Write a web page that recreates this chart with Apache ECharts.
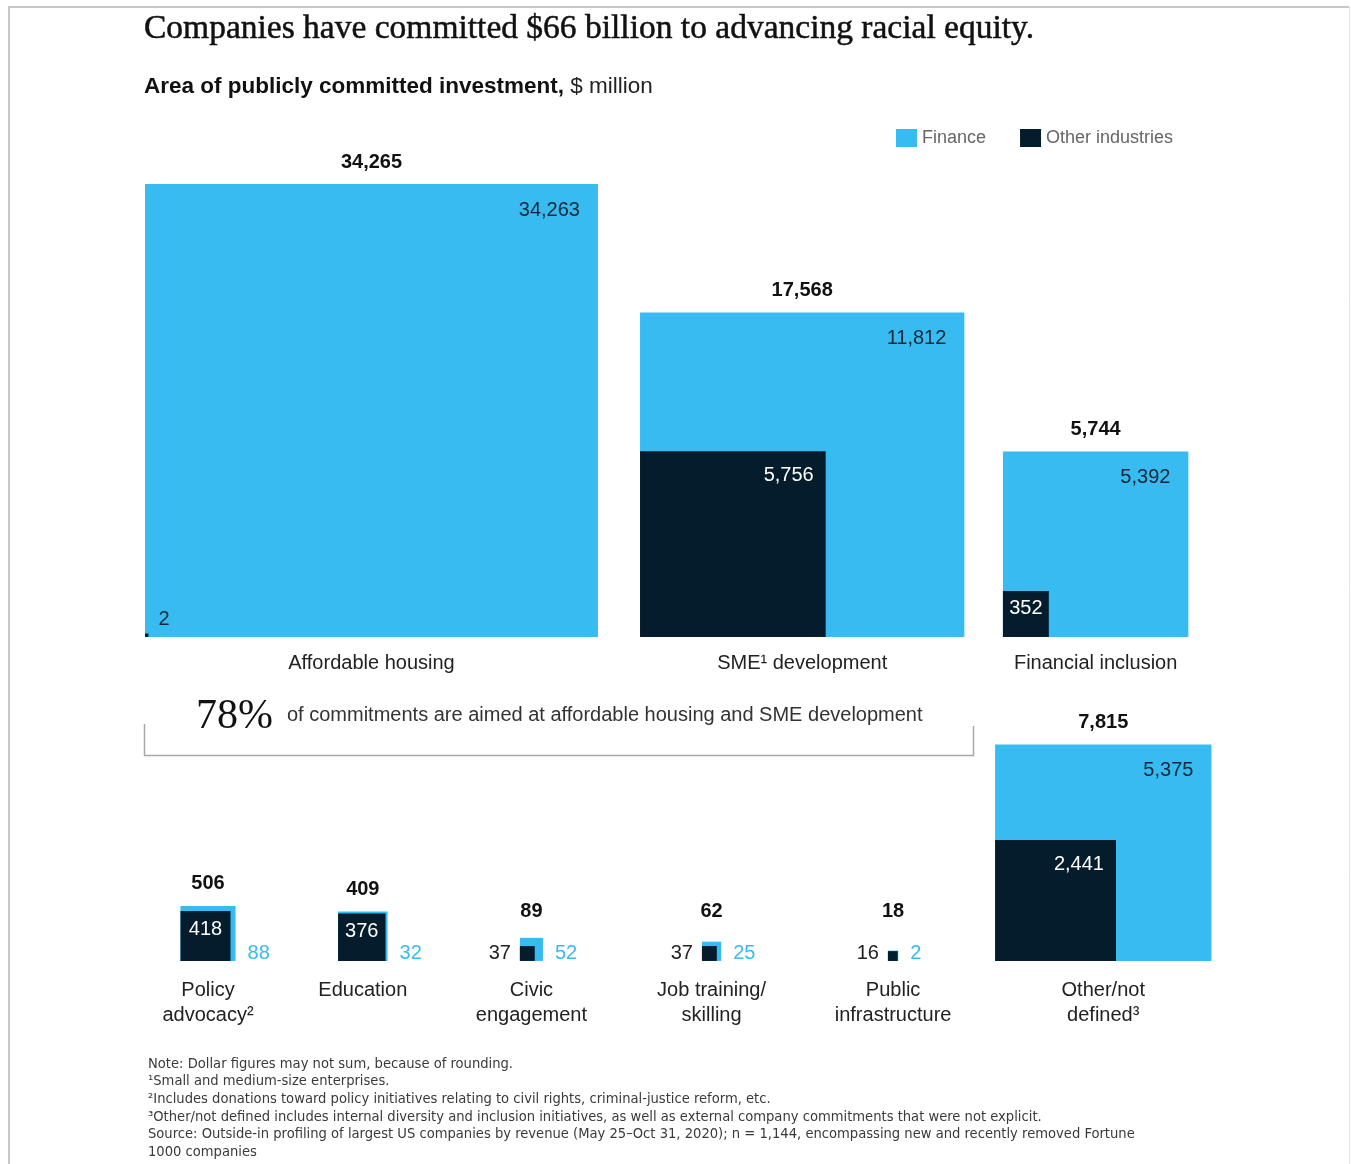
<!DOCTYPE html>
<html>
<head>
<meta charset="utf-8">
<script src="https://cdn.jsdelivr.net/npm/echarts@6.0.0/dist/echarts.min.js"></script>
<style>
  html, body { margin: 0; padding: 0; background: #ffffff; }
  #chart { width: 1351px; height: 1164px; }
</style>
</head>
<body>
<div id="chart"></div>
<script>
// Publicly committed investment by area, $ million
const categories = [
  'Affordable housing', 'SME\u00b9 development', 'Financial inclusion',
  'Policy\nadvocacy\u00b2', 'Education', 'Civic\nengagement',
  'Job training/\nskilling', 'Public\ninfrastructure', 'Other/not\ndefined\u00b3'
];
const totals          = [34265, 17568, 5744, 506, 409, 89, 62, 18, 7815];
const finance         = [34263, 11812, 5392, 88, 32, 52, 25, 2, 5375];
const otherIndustries = [2, 5756, 352, 418, 376, 37, 37, 16, 2441];

// Placement of each square: row and left edge, in sqrt($ million) units
const rowOf    = [0, 0, 0, 1, 1, 1, 1, 1, 1];
const leftEdge = [0, 202.3, 350.6, 14.5, 78.9, 153.2, 227.6, 303.6, 347.4];
const rowBase  = [132.4, 0];
const catLabelGap = [14, 17];     // px between a row's baseline and its category labels

const PX = 2.447;                 // pixels per sqrt-unit, so square area ~ value
const X_MAX = 440;
const Y_MAX = rowBase[0] + Math.sqrt(Math.max(...totals));
const BLUE = '#38bbf0';
const NAVY = '#051c2c';
const SANS = '"Liberation Sans", Arial, sans-serif';
const SERIF = '"Liberation Serif", "Times New Roman", serif';

const fmt = v => v.toLocaleString('en-US');

const items = categories.map((c, i) => [leftEdge[i], rowBase[rowOf[i]], totals[i], finance[i], otherIndustries[i]]);

// pixel box of a square anchored at (x0, base) with the given side in axis units
function squarePx(api, x0, base, side) {
  const a = api.coord([x0, base]);
  const b = api.coord([x0 + side, base + side]);
  return { x: a[0], y: b[1], w: b[0] - a[0], h: a[1] - b[1], base: a[1] };
}

function label(x, y, text, opts) {
  const align = opts.align || 'center';
  const valign = opts.valign || 'middle';
  return {
    type: 'text', x: x, y: y, silent: true,
    style: {
      text: text, fill: opts.fill || '#111',
      font: opts.font,
      align: align, verticalAlign: valign,
      textAlign: align, textVerticalAlign: valign,
      lineHeight: opts.lineHeight
    }
  };
}

function renderFinance(params, api) {
  const i = params.dataIndex;
  const x0 = api.value(0), base = api.value(1);
  const total = api.value(2), fin = api.value(3);
  const o = squarePx(api, x0, base, Math.sqrt(total));
  const big = o.w >= 100;
  const children = [
    { type: 'rect', shape: { x: o.x, y: o.y, width: o.w, height: o.h }, style: { fill: BLUE } },
    label(o.x + o.w / 2, Math.min(o.y - 22, o.base - 49), fmt(total),
      { font: 'bold 20px ' + SANS, fill: '#111' }),
    label(o.x + o.w / 2, o.base + catLabelGap[rowOf[i]], categories[i],
      { font: '20px ' + SANS, fill: '#222', valign: 'top', lineHeight: 25 })
  ];
  if (big) {
    children.push(label(o.x + o.w - 18, o.y + 26, fmt(fin), { font: '20px ' + SANS, fill: '#10283a', align: 'right' }));
  } else {
    children.push(label(o.x + o.w + 12, o.base - 7, fmt(fin), { font: '20px ' + SANS, fill: BLUE, align: 'left' }));
  }
  return { type: 'group', children: children };
}

function renderOther(params, api) {
  const x0 = api.value(0), base = api.value(1);
  const total = api.value(2), oth = api.value(4);
  const o = squarePx(api, x0, base, Math.sqrt(total));
  const n = squarePx(api, x0, base, Math.sqrt(oth));
  const children = [
    { type: 'rect', shape: { x: n.x, y: n.y, width: Math.max(n.w, 3), height: Math.max(n.h, 3) }, style: { fill: NAVY } }
  ];
  const f = '20px ' + SANS;
  if (n.w >= 100) {
    children.push(label(n.x + n.w - 12, n.y + 24, fmt(oth), { font: f, fill: '#ffffff', align: 'right' }));
  } else if (n.w >= 40) {
    children.push(label(n.x + n.w / 2, n.y + n.h * 0.37, fmt(oth), { font: f, fill: '#ffffff' }));
  } else if (o.w >= 100) {
    children.push(label(n.x + n.w + 10, n.y - 14, fmt(oth), { font: f, fill: '#10283a', align: 'left' }));
  } else {
    children.push(label(n.x - 9, n.base - 7, fmt(oth), { font: f, fill: '#222', align: 'right' }));
  }
  return { type: 'group', children: children };
}

function gText(x, y, text, font, fill, extra) {
  return {
    type: 'text', x: x, y: y, silent: true,
    style: Object.assign({
      text: text, font: font, fill: fill,
      align: 'left', verticalAlign: 'middle', textAlign: 'left', textVerticalAlign: 'middle'
    }, extra || {})
  };
}

const notes = [
  'Note: Dollar figures may not sum, because of rounding.',
  '\u00b9Small and medium-size enterprises.',
  '\u00b2Includes donations toward policy initiatives relating to civil rights, criminal-justice reform, etc.',
  '\u00b3Other/not defined includes internal diversity and inclusion initiatives, as well as external company commitments that were not explicit.',
  'Source: Outside-in profiling of largest US companies by revenue (May 25\u2013Oct 31, 2020); n = 1,144, encompassing new and recently removed Fortune',
  '1000 companies'
];

const chart = echarts.init(document.getElementById('chart'), null, { renderer: 'canvas' });
chart.setOption({
  animation: false,
  backgroundColor: '#ffffff',
  grid: { left: 145, top: 184, width: X_MAX * PX, height: Y_MAX * PX, containLabel: false },
  xAxis: { type: 'value', min: 0, max: X_MAX, show: false },
  yAxis: { type: 'value', min: 0, max: Y_MAX, show: false },
  legend: {
    data: [{ name: 'Finance', icon: 'rect' }, { name: 'Other industries', icon: 'rect' }],
    left: 891, top: 124, itemWidth: 21, itemHeight: 18, itemGap: 34,
    selectedMode: false,
    textStyle: { fontSize: 18, color: '#666666', fontFamily: SANS }
  },
  series: [
    { name: 'Finance', type: 'custom', clip: false, itemStyle: { color: BLUE },
      encode: { x: 0, y: 1 }, data: items, renderItem: renderFinance, z: 2 },
    { name: 'Other industries', type: 'custom', clip: false, itemStyle: { color: NAVY },
      encode: { x: 0, y: 1 }, data: items, renderItem: renderOther, z: 3 }
  ],
  graphic: [
    { type: 'polyline', silent: true, shape: { points: [[9, 1164], [9, 7], [1349, 7]] },
      style: { stroke: '#c8c8c8', lineWidth: 2, fill: null } },
    { type: 'line', silent: true, shape: { x1: 1349.5, y1: 7, x2: 1349.5, y2: 1164 },
      style: { stroke: '#e2e2e2', lineWidth: 1 } },
    gText(144, 29, 'Companies have committed $66 billion to advancing racial equity.', '33.5px ' + SERIF, '#111',
      { stroke: '#111', lineWidth: 0.5 }),
    gText(144, 87, '{b|Area of publicly committed investment,} {n|$ million}', '22.5px ' + SANS, '#111', {
      rich: {
        b: { fontFamily: SANS, fontSize: 22.5, fontWeight: 'bold', fill: '#111', color: '#111' },
        n: { fontFamily: SANS, fontSize: 22.5, fill: '#222', color: '#222' }
      }
    }),
    { type: 'polyline', silent: true, shape: { points: [[144.5, 724], [144.5, 755.5], [973.5, 755.5], [973.5, 726]] },
      style: { stroke: '#a8a8a8', lineWidth: 1.5, fill: null } },
    gText(196, 717, '78%', '42px ' + SERIF, '#111'),
    gText(287, 715, 'of commitments are aimed at affordable housing and SME development', '20px ' + SANS, '#333'),
    gText(148, 1055, notes.join('\n'), '14.6px "Liberation Sans Narrow", "DejaVu Sans Condensed", sans-serif', '#3a3a3a',
      { verticalAlign: 'top', textVerticalAlign: 'top', lineHeight: 17.7 })
  ]
});
</script>
</body>
</html>
